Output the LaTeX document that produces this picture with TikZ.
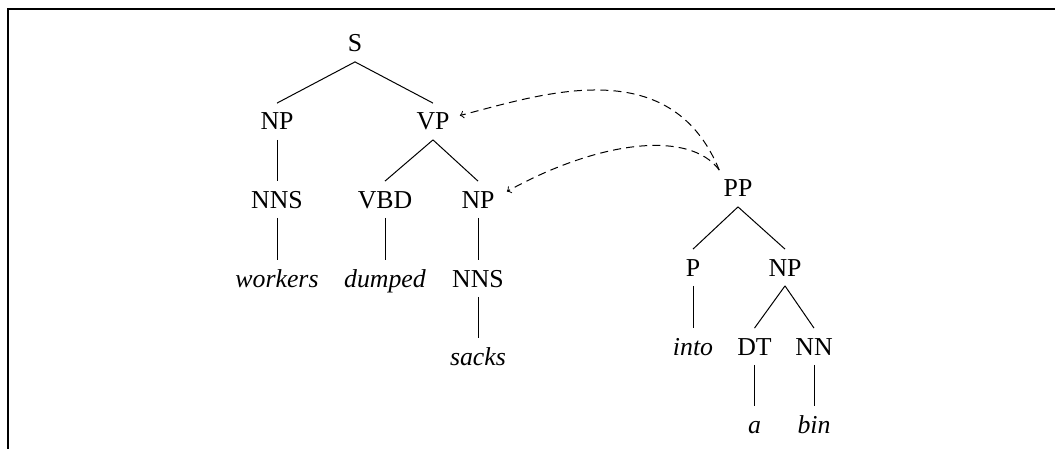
\documentclass[tikz,border=0pt]{standalone}
\usepackage{fontspec}
\setmainfont{Liberation Serif}
\begin{document}
\begin{tikzpicture}[x=0.5pt,y=-0.5pt,
  cat/.style={anchor=base,text height=8.5pt,text depth=0pt,inner ysep=4.75pt,inner xsep=2pt,font=\fontsize{12.9}{15}\selectfont},
  word/.style={cat,font=\fontsize{12.9}{15}\selectfont\itshape},
  branch/.style={line width=0.5pt},
  move/.style={->,dash pattern=on 4pt off 2.6pt,line width=0.5pt}]
\useasboundingbox (0,0) rectangle (1055,449);
\draw[line width=0.6pt] (8,449) -- (8,9) -- (1055,9);
% main tree
\node[cat] (S) at (355,52) {S};
\node[cat] (NPa) at (277,130) {NP};
\node[cat] (VP) at (433,130) {VP};
\node[cat] (NNSa) at (277,208) {NNS};
\node[cat] (VBD) at (385,208) {VBD};
\node[cat] (NPb) at (478,208) {NP};
\node[word] (workers) at (277,287) {workers};
\node[word] (dumped) at (385,287) {dumped};
\node[cat] (NNSb) at (478,287) {NNS};
\node[word] (sacks) at (478,365) {sacks};
% PP tree
\node[cat] (PP) at (738,197) {PP};
\node[cat] (P) at (693,276) {P};
\node[cat] (NPc) at (785,276) {NP};
\node[word] (into) at (693,355) {into};
\node[cat] (DT) at (754.5,355) {DT};
\node[cat] (NN) at (814,355) {NN};
\node[word] (a) at (754.5,433) {a};
\node[word] (bin) at (814,433) {bin};
% branches
\draw[branch] (S.south) -- (NPa.north);
\draw[branch] (S.south) -- (VP.north);
\draw[branch] (NPa.south) -- (NNSa.north);
\draw[branch] (VP.south) -- (VBD.north);
\draw[branch] (VP.south) -- (NPb.north);
\draw[branch] (NNSa.south) -- (workers.north);
\draw[branch] (VBD.south) -- (dumped.north);
\draw[branch] (NPb.south) -- (NNSb.north);
\draw[branch] (NNSb.south) -- (sacks.north);
\draw[branch] (PP.south) -- (P.north);
\draw[branch] (PP.south) -- (NPc.north);
\draw[branch] (P.south) -- (into.north);
\draw[branch] (NPc.south) -- (DT.north);
\draw[branch] (NPc.south) -- (NN.north);
\draw[branch] (DT.south) -- (a.north);
\draw[branch] (NN.south) -- (bin.north);
% movement arrows
\draw[move] (PP.north west) .. controls (670,50) and (540,95) .. ([xshift=3pt,yshift=3pt]VP.east);
\draw[move] (PP.north west) .. controls (690,130) and (600,140) .. ([xshift=4pt,yshift=4pt]NPb.east);
\end{tikzpicture}
\end{document}
